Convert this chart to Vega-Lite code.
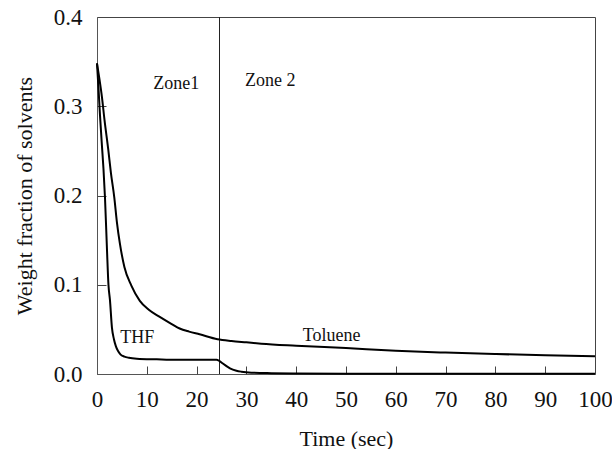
{
  "$schema": "https://vega.github.io/schema/vega-lite/v6.json",
  "autosize": "none",
  "padding": {"left": 97, "top": 17, "right": 17, "bottom": 75},
  "width": 498,
  "height": 357,
  "config": {
    "font": "Liberation Serif",
    "view": {"stroke": "#444", "strokeWidth": 1},
    "axis": {
      "grid": false,
      "domainColor": "#555",
      "tickColor": "#444",
      "labelColor": "#111",
      "titleColor": "#111",
      "labelFont": "Liberation Serif",
      "titleFont": "Liberation Serif",
      "labelFontSize": 23,
      "titleFontSize": 22,
      "titleFontWeight": "normal",
      "labelFlush": false,
      "labelOverlap": false
    }
  },
  "resolve": {"axis": {"x": "independent", "y": "independent"}},
  "datasets": {
    "curves": [
      {"t": 0, "w": 0.348, "solvent": "Toluene"},
      {"t": 0.5, "w": 0.33, "solvent": "Toluene"},
      {"t": 1.0, "w": 0.31, "solvent": "Toluene"},
      {"t": 1.5, "w": 0.285, "solvent": "Toluene"},
      {"t": 2.27, "w": 0.251, "solvent": "Toluene"},
      {"t": 2.8, "w": 0.225, "solvent": "Toluene"},
      {"t": 3.47, "w": 0.198, "solvent": "Toluene"},
      {"t": 4.0, "w": 0.17, "solvent": "Toluene"},
      {"t": 4.6, "w": 0.146, "solvent": "Toluene"},
      {"t": 5.5, "w": 0.12, "solvent": "Toluene"},
      {"t": 6.9, "w": 0.099, "solvent": "Toluene"},
      {"t": 8.6, "w": 0.082, "solvent": "Toluene"},
      {"t": 10.4, "w": 0.072, "solvent": "Toluene"},
      {"t": 12.6, "w": 0.064, "solvent": "Toluene"},
      {"t": 15, "w": 0.056, "solvent": "Toluene"},
      {"t": 16.6, "w": 0.051, "solvent": "Toluene"},
      {"t": 18.5, "w": 0.0475, "solvent": "Toluene"},
      {"t": 20.6, "w": 0.0445, "solvent": "Toluene"},
      {"t": 24.2, "w": 0.039, "solvent": "Toluene"},
      {"t": 27, "w": 0.037, "solvent": "Toluene"},
      {"t": 30, "w": 0.0355, "solvent": "Toluene"},
      {"t": 33, "w": 0.034, "solvent": "Toluene"},
      {"t": 40, "w": 0.0317, "solvent": "Toluene"},
      {"t": 50, "w": 0.029, "solvent": "Toluene"},
      {"t": 60, "w": 0.026, "solvent": "Toluene"},
      {"t": 70, "w": 0.024, "solvent": "Toluene"},
      {"t": 80, "w": 0.0224, "solvent": "Toluene"},
      {"t": 90, "w": 0.021, "solvent": "Toluene"},
      {"t": 100, "w": 0.020, "solvent": "Toluene"},
      {"t": 0, "w": 0.348, "solvent": "THF"},
      {"t": 0.3, "w": 0.32, "solvent": "THF"},
      {"t": 0.6, "w": 0.29, "solvent": "THF"},
      {"t": 1.0, "w": 0.255, "solvent": "THF"},
      {"t": 1.3, "w": 0.23, "solvent": "THF"},
      {"t": 1.6, "w": 0.198, "solvent": "THF"},
      {"t": 2.0, "w": 0.14, "solvent": "THF"},
      {"t": 2.3, "w": 0.1, "solvent": "THF"},
      {"t": 2.6, "w": 0.083, "solvent": "THF"},
      {"t": 3.0, "w": 0.052, "solvent": "THF"},
      {"t": 3.4, "w": 0.039, "solvent": "THF"},
      {"t": 3.8, "w": 0.031, "solvent": "THF"},
      {"t": 4.2, "w": 0.026, "solvent": "THF"},
      {"t": 4.7, "w": 0.022, "solvent": "THF"},
      {"t": 5.5, "w": 0.0195, "solvent": "THF"},
      {"t": 6.4, "w": 0.0182, "solvent": "THF"},
      {"t": 8, "w": 0.0172, "solvent": "THF"},
      {"t": 12, "w": 0.0165, "solvent": "THF"},
      {"t": 16, "w": 0.016, "solvent": "THF"},
      {"t": 20, "w": 0.016, "solvent": "THF"},
      {"t": 24, "w": 0.016, "solvent": "THF"},
      {"t": 24.6, "w": 0.0145, "solvent": "THF"},
      {"t": 25.2, "w": 0.012, "solvent": "THF"},
      {"t": 26, "w": 0.0088, "solvent": "THF"},
      {"t": 26.7, "w": 0.0064, "solvent": "THF"},
      {"t": 28, "w": 0.0037, "solvent": "THF"},
      {"t": 29, "w": 0.0026, "solvent": "THF"},
      {"t": 31, "w": 0.0015, "solvent": "THF"},
      {"t": 35, "w": 0.0009, "solvent": "THF"},
      {"t": 40, "w": 0.0006, "solvent": "THF"},
      {"t": 50, "w": 0.0004, "solvent": "THF"},
      {"t": 100, "w": 0.0003, "solvent": "THF"}
    ],
    "zone": [{"t": 24.6}],
    "labels": [
      {"t": 15.9, "w": 0.319, "text": "Zone1"},
      {"t": 34.8, "w": 0.323, "text": "Zone 2"},
      {"t": 8.1, "w": 0.035, "text": "THF"},
      {"t": 47.1, "w": 0.037, "text": "Toluene"}
    ]
  },
  "layer": [
    {
      "data": {"name": "zone"},
      "mark": {"type": "rule", "color": "#222", "strokeWidth": 1},
      "encoding": {
        "x": {"field": "t", "type": "quantitative", "axis": null}
      }
    },
    {
      "data": {"name": "curves"},
      "mark": {"type": "line", "color": "#000", "strokeWidth": 2, "interpolate": "monotone"},
      "encoding": {
        "x": {
          "field": "t", "type": "quantitative",
          "scale": {"domain": [0, 100], "nice": false},
          "axis": {"orient": "bottom", "title": "Time (sec)", "values": [0,10,20,30,40,50,60,70,80,90,100], "ticks": false, "labelPadding": 14, "titlePadding": 17}
        },
        "y": {
          "field": "w", "type": "quantitative",
          "scale": {"domain": [0, 0.4], "nice": false},
          "axis": {"orient": "left", "title": "Weight fraction of solvents", "values": [0, 0.1, 0.2, 0.3, 0.4], "format": ".1f", "ticks": false, "labelPadding": 15, "titlePadding": 17}
        },
        "detail": {"field": "solvent"}
      }
    },
    {
      "data": {"name": "labels"},
      "mark": {"type": "text", "font": "Liberation Serif", "fontSize": 18, "color": "#111", "align": "center", "baseline": "alphabetic"},
      "encoding": {
        "x": {"field": "t", "type": "quantitative",
          "axis": {"orient": "top", "title": null, "labels": false, "domain": false, "values": [10,20,30,40,50,60,70,80,90], "tickSize": 8, "tickWidth": 1, "offset": -357}},
        "y": {"field": "w", "type": "quantitative",
          "axis": {"orient": "right", "title": null, "labels": false, "domain": false, "values": [0.1, 0.2, 0.3], "tickSize": 9, "tickWidth": 1, "offset": -498}},
        "text": {"field": "text"}
      }
    }
  ]
}
